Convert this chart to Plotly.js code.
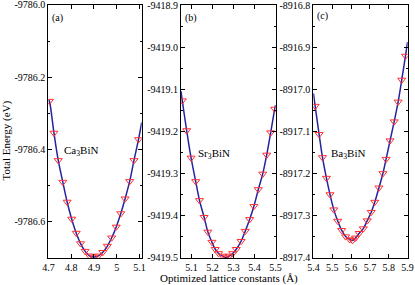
<!DOCTYPE html>
<html>
<head>
<meta charset="utf-8">
<script src="https://cdn.plot.ly/plotly-3.0.1.min.js"></script>
<style>html,body{margin:0;padding:0;background:#fff;}#chart{width:415px;height:285px;}</style>
</head>
<body>
<div id="chart"></div>
<script>
// ---- Data ----
// Panel (a) Ca3BiN
const xa = [4.704,4.724,4.743,4.763,4.782,4.802,4.822,4.841,4.861,4.880,4.900,4.920,4.939,4.959,4.978,4.998,5.018,5.037,5.057,5.076,5.096];
const ya = [-9786.266,-9786.354,-9786.430,-9786.490,-9786.545,-9786.592,-9786.631,-9786.660,-9786.681,-9786.694,-9786.697,-9786.694,-9786.684,-9786.667,-9786.644,-9786.614,-9786.577,-9786.536,-9786.488,-9786.430,-9786.372];
const fitEndsXa = [4.700, 5.110];
const fitEndsYa = [-9786.262, -9786.325];
// Panel (b) Sr3BiN
const xb = [5.056,5.077,5.098,5.120,5.138,5.160,5.178,5.197,5.213,5.229,5.248,5.264,5.280,5.296,5.313,5.336,5.356,5.377,5.397,5.418,5.439,5.458,5.477,5.496];
const yb = [-9419.127,-9419.198,-9419.263,-9419.319,-9419.364,-9419.404,-9419.439,-9419.463,-9419.480,-9419.490,-9419.496,-9419.500,-9419.496,-9419.490,-9419.480,-9419.461,-9419.437,-9419.409,-9419.378,-9419.338,-9419.301,-9419.256,-9419.203,-9419.147];
const fitEndsXb = [5.050, 5.500];
const fitEndsYb = [-9419.105, -9419.138];
// Panel (c) Ba3BiN
const xc = [5.409,5.430,5.448,5.469,5.488,5.508,5.529,5.550,5.571,5.593,5.608,5.624,5.643,5.665,5.686,5.707,5.726,5.748,5.769,5.786,5.807,5.829,5.850,5.869,5.889];
const yc = [-8917.040,-8917.107,-8917.162,-8917.211,-8917.250,-8917.286,-8917.313,-8917.335,-8917.350,-8917.357,-8917.359,-8917.353,-8917.342,-8917.331,-8917.312,-8917.292,-8917.268,-8917.234,-8917.200,-8917.166,-8917.122,-8917.077,-8917.030,-8916.978,-8916.921];
const fitEndsXc = [5.400, 5.900];
const fitEndsYc = [-8917.010, -8916.888];

// Tick labels
const xTicksA = [4.7,4.8,4.9,5.0,5.1];
const xTextA = ['4.7','4.8','4.9','5','5.1'];
const yTicksA = [-9786.0,-9786.2,-9786.4,-9786.6];
const yTextA = ['-9786.0','-9786.2','-9786.4','-9786.6'];
const xTicksB = [5.1,5.2,5.3,5.4,5.5];
const xTextB = ['5.1','5.2','5.3','5.4','5.5'];
const yTicksB = [-9418.9,-9419.0,-9419.1,-9419.2,-9419.3,-9419.4,-9419.5];
const yTextB = ['-9418.9','-9419.0','-9419.1','-9419.2','-9419.3','-9419.4','-9419.5'];
const xTicksC = [5.4,5.5,5.6,5.7,5.8,5.9];
const xTextC = ['5.4','5.5','5.6','5.7','5.8','5.9'];
const yTicksC = [-8916.8,-8916.9,-8917.0,-8917.1,-8917.2,-8917.3,-8917.4];
const yTextC = ['-8916.8','-8916.9','-8917.0','-8917.1','-8917.2','-8917.3','-8917.4'];

const panelLabels = ['(a)','(b)','(c)'];
const compounds = ['Ca<sub>3</sub>BiN','Sr<sub>3</sub>BiN','Ba<sub>3</sub>BiN'];
const yTitle = 'Total Energy (eV)';
const xTitle = 'Optimized lattice constants (Å)';

// ---- Build ----
const W = 415, H = 285;
const LINE = '#2424a0', MARK = '#ff3030';
const FONT = 'Liberation Serif, Times New Roman, serif';
const EPS = 0.0008;

function fitTrace(x, y, ex, ey, xr, yr) {
  return {x: [ex[0]].concat(x, [ex[1]]), y: [ey[0]].concat(y, [ey[1]]), xaxis: xr, yaxis: yr,
    mode: 'lines', line: {color: LINE, width: 1.5, shape: 'spline', smoothing: 1}, hoverinfo: 'skip', showlegend: false};
}
function markTrace(x, y, xr, yr) {
  return {x: x, y: y, xaxis: xr, yaxis: yr, mode: 'markers',
    marker: {symbol: 'triangle-down-open', size: 7, color: MARK, line: {width: 1, color: MARK}}, showlegend: false};
}
const traces = [
  fitTrace(xa, ya, fitEndsXa, fitEndsYa, 'x', 'y'), markTrace(xa, ya, 'x', 'y'),
  fitTrace(xb, yb, fitEndsXb, fitEndsYb, 'x2', 'y2'), markTrace(xb, yb, 'x2', 'y2'),
  fitTrace(xc, yc, fitEndsXc, fitEndsYc, 'x3', 'y3'), markTrace(xc, yc, 'x3', 'y3')
];

function ax(domain, range, vals, text, anchor, minorD) {
  return {domain: domain, range: range, anchor: anchor, showline: true, linecolor: '#000', linewidth: 1,
    mirror: 'allticks', ticks: 'inside', ticklen: 4, tickwidth: 1, tickcolor: '#000',
    showgrid: false, zeroline: false, tickmode: 'array', tickvals: vals, ticktext: text,
    ticklabeloverflow: 'allow',
    tickfont: {family: FONT, size: 10, color: '#000'},
    minor: minorD ? {dtick: minorD, tick0: 0, ticks: 'inside', ticklen: 2, tickcolor: '#000', tickwidth: 1, showgrid: false} : undefined};
}
const yd = [1 - 258 / H, 1 - 4.7 / H];
const layout = {
  width: W, height: H, margin: {l: 0, r: 0, t: 0, b: 0}, paper_bgcolor: '#fff', plot_bgcolor: '#fff',
  showlegend: false,
  xaxis: ax([48.3 / W, 141.7 / W], [4.7 - EPS, 5.11], xTicksA, xTextA, 'y'),
  yaxis: ax(yd, [-9786.7, -9786.0 + EPS], yTicksA, yTextA, 'x', 0.1),
  xaxis2: ax([181 / W, 275.7 / W], [5.05, 5.5 + EPS], xTicksB, xTextB, 'y2'),
  yaxis2: ax(yd, [-9419.5 - EPS, -9418.9 + EPS], yTicksB, yTextB, 'x2', 0.05),
  xaxis3: ax([313.3 / W, 407.7 / W], [5.4 - EPS, 5.9 + EPS], xTicksC, xTextC, 'y3'),
  yaxis3: ax(yd, [-8917.4 - EPS, -8916.8 + EPS], yTicksC, yTextC, 'x3', 0.05),
  annotations: [
    {text: panelLabels[0], xref: 'paper', yref: 'paper', x: 50 / W, y: 1 - 18 / H, xanchor: 'left', yanchor: 'middle', showarrow: false, font: {family: FONT, size: 10, color: '#000'}},
    {text: panelLabels[1], xref: 'paper', yref: 'paper', x: 182.5 / W, y: 1 - 18 / H, xanchor: 'left', yanchor: 'middle', showarrow: false, font: {family: FONT, size: 10, color: '#000'}},
    {text: panelLabels[2], xref: 'paper', yref: 'paper', x: 314.5 / W, y: 1 - 16 / H, xanchor: 'left', yanchor: 'middle', showarrow: false, font: {family: FONT, size: 10, color: '#000'}},
    {text: compounds[0], xref: 'paper', yref: 'paper', x: 62 / W, y: 1 - 151 / H, xanchor: 'left', yanchor: 'middle', showarrow: false, font: {family: FONT, size: 11, color: '#000'}},
    {text: compounds[1], xref: 'paper', yref: 'paper', x: 196 / W, y: 1 - 154 / H, xanchor: 'left', yanchor: 'middle', showarrow: false, font: {family: FONT, size: 11, color: '#000'}},
    {text: compounds[2], xref: 'paper', yref: 'paper', x: 329 / W, y: 1 - 154 / H, xanchor: 'left', yanchor: 'middle', showarrow: false, font: {family: FONT, size: 11, color: '#000'}},
    {text: yTitle, xref: 'paper', yref: 'paper', x: 5.5 / W, y: 1 - 141 / H, xanchor: 'center', yanchor: 'middle', textangle: -90, showarrow: false, font: {family: FONT, size: 11, color: '#000'}},
    {text: xTitle, xref: 'paper', yref: 'paper', x: 228.5 / W, y: 1 - 278 / H, xanchor: 'center', yanchor: 'middle', showarrow: false, font: {family: FONT, size: 11, color: '#000'}}
  ]
};
Plotly.newPlot('chart', traces, layout, {staticPlot: true, displayModeBar: false});
</script>
</body>
</html>
